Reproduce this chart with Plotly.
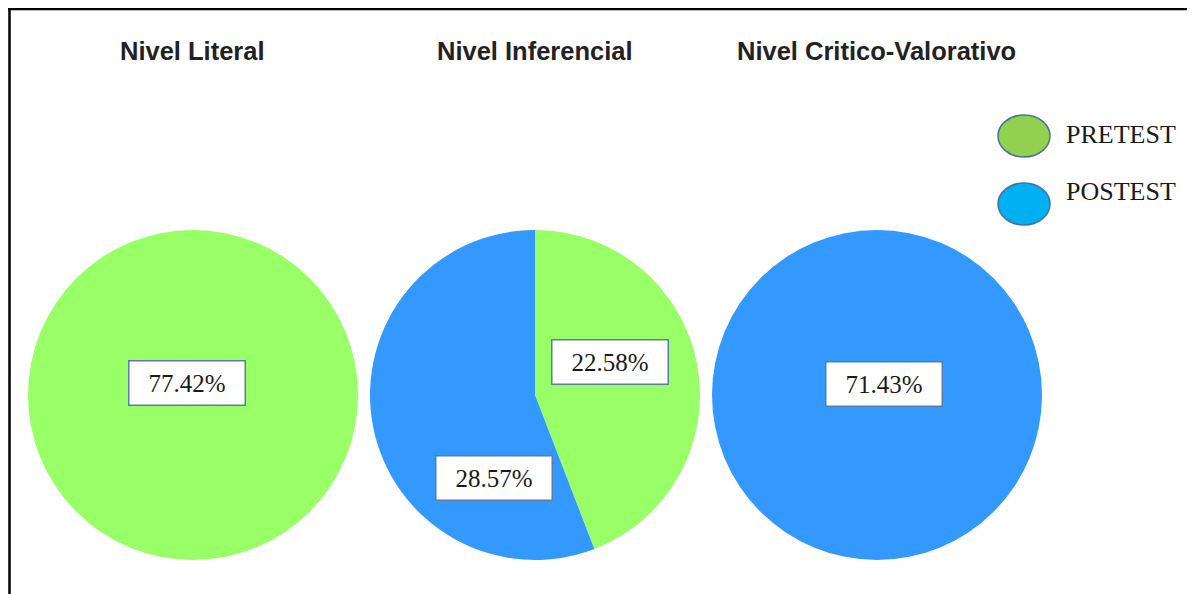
import plotly.graph_objects as go

# ---- data ----
categories = ["Nivel Literal", "Nivel Inferencial", "Nivel Critico-Valorativo"]
series = ["PRETEST", "POSTEST"]
pretest = [77.42, 22.58, 0]
postest = [0, 28.57, 71.43]

# ---- layout constants ----
W, H = 1195, 594
OFF = 8  # page body margin offset
pie_green = "#99FF66"
pie_blue = "#3399FF"
leg_green = "#92D050"
leg_blue = "#00B0F0"
leg_border = "#41719C"
box_border = "#5A7BA6"

def px(x):
    return (x - OFF) / W

def py(y):
    return 1 - (y - OFF) / H

centers_x = [193, 535, 877]
title_x = [193, 535, 876]
center_y = 395
radius = 165
title_y = 51
# label box centres (px) for each category: list of (series_index, x, y)
label_pos = [
    [(0, 186.5, 382.5)],
    [(0, 610, 362), (1, 493.7, 477.5)],
    [(1, 883.5, 384)],
]

fig = go.Figure()
for i, cat in enumerate(categories):
    cx = centers_x[i]
    fig.add_trace(go.Pie(
        labels=series,
        values=[pretest[i], postest[i]],
        marker=dict(colors=[pie_green, pie_blue], line=dict(width=0)),
        sort=False,
        direction="clockwise",
        rotation=0,
        textinfo="none",
        hoverinfo="label+value",
        showlegend=False,
        domain=dict(x=[px(cx - radius), px(cx + radius)],
                    y=[py(center_y + radius), py(center_y - radius)]),
    ))

annotations = []
for i, cat in enumerate(categories):
    annotations.append(dict(
        text=f"<b>{cat}</b>", x=px(title_x[i]), y=py(title_y), xref="paper", yref="paper",
        showarrow=False, xanchor="center", yanchor="middle",
        font=dict(family="Liberation Sans", size=25.5, color="#222222"),
    ))
    vals = [pretest[i], postest[i]]
    for (s, lx, ly) in label_pos[i]:
        annotations.append(dict(
            text=f"{vals[s]:.2f}%", x=px(lx), y=py(ly), xref="paper", yref="paper",
            showarrow=False, xanchor="center", yanchor="middle",
            width=115, height=43, borderpad=0, borderwidth=1.5,
            bordercolor=box_border, bgcolor="white",
            font=dict(family="Liberation Serif", size=25, color="#1a1a1a"),
        ))

# legend (custom ellipses + text)
legend_items = [(series[0], leg_green, 136, 135), (series[1], leg_blue, 204, 192)]
shapes = []
for name, col, ey, ty in legend_items:
    shapes.append(dict(
        type="circle", xref="paper", yref="paper",
        x0=px(998), x1=px(1050), y0=py(ey + 21), y1=py(ey - 21),
        fillcolor=col, line=dict(color=leg_border, width=1.5),
    ))
    annotations.append(dict(
        text=name, x=px(1064), y=py(ty), xref="paper", yref="paper",
        showarrow=False, xanchor="left", yanchor="middle",
        font=dict(family="Liberation Serif", size=26, color="#1a1a1a"),
    ))

# frame lines (top and left)
shapes.append(dict(type="line", xref="paper", yref="paper",
                   x0=0, x1=1, y0=1 - 1 / H, y1=1 - 1 / H,
                   line=dict(color="black", width=2.5)))
shapes.append(dict(type="line", xref="paper", yref="paper",
                   x0=1.5 / W, x1=1.5 / W, y0=0, y1=1,
                   line=dict(color="black", width=2.5)))

fig.update_layout(
    width=W, height=H,
    margin=dict(l=0, r=0, t=0, b=0),
    paper_bgcolor="white", plot_bgcolor="white",
    annotations=annotations, shapes=shapes,
    showlegend=False,
)

fig.write_html("out.html")
